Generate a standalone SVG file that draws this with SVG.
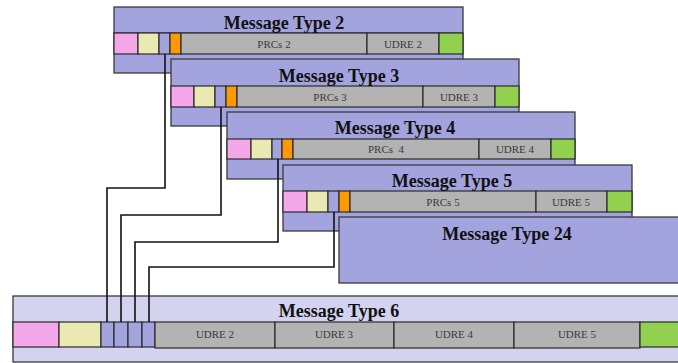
<svg xmlns="http://www.w3.org/2000/svg" width="678" height="363" viewBox="0 0 678 363">
<style>
.box{fill:#a3a3de;stroke:#3a3a3a;stroke-width:1.3}
.box6{fill:#d3d3f0;stroke:#3a3a3a;stroke-width:1.3}
.f{stroke:#2a2a2a;stroke-width:1.2}
.pk{fill:#f4a8ea}.yl{fill:#ebe9b2}.bl{fill:#a3a3de}.or{fill:#ff9900}.gr{fill:#b3b3b3}.gn{fill:#92d050}
.t{font-family:"Liberation Serif","Times New Roman",serif;font-weight:bold;font-size:18px;fill:#111;text-anchor:middle}
.l{font-family:"Liberation Serif","Times New Roman",serif;font-size:11px;fill:#3a3a3a;text-anchor:middle;white-space:pre}
.c{fill:none;stroke:#111;stroke-width:1.6}
</style>
<rect width="678" height="363" fill="#fff"/>
<g id="mt2">
<rect class="box" x="114" y="7" width="349" height="66"/>
<line x1="114" y1="33" x2="463" y2="33" class="f"/>
<rect class="f pk" x="114" y="33" width="24" height="21"/>
<rect class="f yl" x="138" y="33" width="21" height="21"/>
<rect class="f bl" x="159" y="33" width="11" height="21"/>
<rect class="f or" x="170" y="33" width="11" height="21"/>
<rect class="f gr" x="181" y="33" width="186" height="21"/>
<rect class="f gr" x="367" y="33" width="72" height="21"/>
<rect class="f gn" x="439" y="33" width="24" height="21"/>
<text class="t" x="284" y="29">Message Type 2</text>
<text class="l" x="274" y="48">PRCs 2</text>
<text class="l" x="403" y="48">UDRE 2</text>
</g>
<g id="mt3">
<rect class="box" x="171" y="59" width="348" height="67"/>
<rect class="f pk" x="171" y="86" width="23" height="21"/>
<rect class="f yl" x="194" y="86" width="21" height="21"/>
<rect class="f bl" x="215" y="86" width="11" height="21"/>
<rect class="f or" x="226" y="86" width="11" height="21"/>
<rect class="f gr" x="237" y="86" width="186" height="21"/>
<rect class="f gr" x="423" y="86" width="72" height="21"/>
<rect class="f gn" x="495" y="86" width="24" height="21"/>
<text class="t" x="339" y="82">Message Type 3</text>
<text class="l" x="330" y="101">PRCs 3</text>
<text class="l" x="459" y="101">UDRE 3</text>
</g>
<g id="mt4">
<rect class="box" x="227" y="112" width="348" height="67"/>
<rect class="f pk" x="227" y="139" width="24" height="20"/>
<rect class="f yl" x="251" y="139" width="21" height="20"/>
<rect class="f bl" x="272" y="139" width="10" height="20"/>
<rect class="f or" x="282" y="139" width="11" height="20"/>
<rect class="f gr" x="293" y="139" width="186" height="20"/>
<rect class="f gr" x="479" y="139" width="72" height="20"/>
<rect class="f gn" x="551" y="139" width="24" height="20"/>
<text class="t" x="395" y="134">Message Type 4</text>
<text class="l" x="386" y="153">PRCs  4</text>
<text class="l" x="515" y="153">UDRE 4</text>
</g>
<g id="mt5">
<rect class="box" x="283" y="165" width="349" height="66"/>
<rect class="f pk" x="283" y="191" width="24" height="21"/>
<rect class="f yl" x="307" y="191" width="21" height="21"/>
<rect class="f bl" x="328" y="191" width="11" height="21"/>
<rect class="f or" x="339" y="191" width="11" height="21"/>
<rect class="f gr" x="350" y="191" width="186" height="21"/>
<rect class="f gr" x="536" y="191" width="71" height="21"/>
<rect class="f gn" x="607" y="191" width="25" height="21"/>
<text class="t" x="452" y="187">Message Type 5</text>
<text class="l" x="443" y="206">PRCs 5</text>
<text class="l" x="571" y="206">UDRE 5</text>
</g>
<g id="mt24">
<rect class="box" x="339" y="217" width="345" height="66"/>
<text class="t" x="507" y="240">Message Type 24</text>
</g>
<g id="mt6">
<rect class="box6" x="13" y="296" width="672" height="66"/>
<rect class="f pk" x="13" y="322" width="46" height="25"/>
<rect class="f yl" x="59" y="322" width="42" height="25"/>
<rect class="f bl" x="101" y="322" width="13" height="25"/>
<rect class="f bl" x="114" y="322" width="14" height="25"/>
<rect class="f bl" x="128" y="322" width="14" height="25"/>
<rect class="f bl" x="142" y="322" width="13" height="25"/>
<rect class="f gr" x="155" y="322" width="120" height="26"/>
<rect class="f gr" x="275" y="322" width="119" height="26"/>
<rect class="f gr" x="394" y="322" width="120" height="26"/>
<rect class="f gr" x="514" y="322" width="126" height="26"/>
<rect class="f gn" x="640" y="322" width="45" height="25"/>
<text class="t" x="339" y="317">Message Type 6</text>
<text class="l" x="215" y="338">UDRE 2</text>
<text class="l" x="334" y="338">UDRE 3</text>
<text class="l" x="454" y="338">UDRE 4</text>
<text class="l" x="577" y="338">UDRE 5</text>
</g>
<g id="connectors">
<polyline class="c" points="165,54 165,188 107,188 107,322"/>
<polyline class="c" points="221,107 221,215 121,215 121,322"/>
<polyline class="c" points="278,159 278,242 135,242 135,322"/>
<polyline class="c" points="334,212 334,267 149,267 149,322"/>
</g>
</svg>
